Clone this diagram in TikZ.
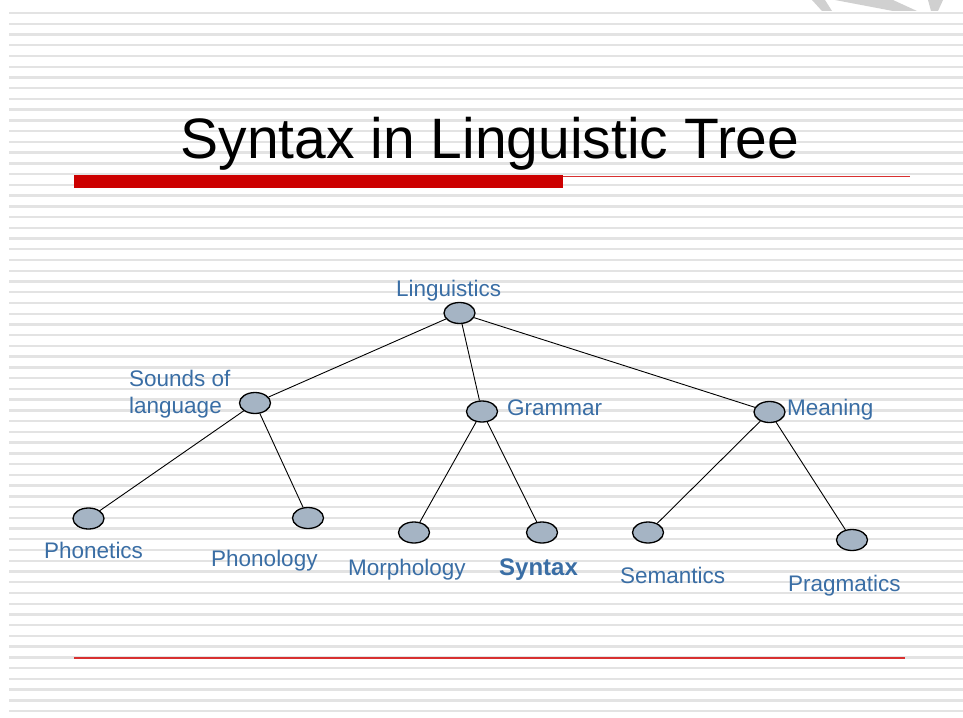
\documentclass[tikz,border=0pt]{standalone}
\usepackage{fontspec}
\setmainfont{Liberation Sans}
\usetikzlibrary{shapes.geometric}
\definecolor{stripegray}{HTML}{E3E3E3}
\definecolor{logogray}{HTML}{D0D0D0}
\definecolor{barred}{HTML}{CC0000}
\definecolor{linered}{HTML}{D83030}
\definecolor{labelblue}{HTML}{3A6EA5}
\definecolor{nodegray}{HTML}{A5B4C4}
\tikzset{
  knot/.style={ellipse,draw=black,line width=1.3pt,fill=nodegray,minimum width=31pt,minimum height=21pt,inner sep=0pt},
  lbl/.style={anchor=base west,inner sep=0pt,text=labelblue,font=\fontsize{22.5}{27}\selectfont},
  branch/.style={black,line width=0.9pt}
}

\begin{document}
\begin{tikzpicture}[x=1pt,y=-1pt]
  \pgfmathsetmacro\gap{10.74}
  \useasboundingbox (0,0) rectangle (963,717);
  \fill[white] (0,0) rectangle (963,717);

% background stripes
  \foreach \k in {0,...,65} {
      \draw[stripegray,line width=2.4pt] (9,13 + \k * \gap) -- (963,13 + \k * \gap);
  }

% corner logo
  \fill[logogray] (812,0) -- (825,0) -- (832,11) -- (822,11) -- cycle;
  \fill[logogray] (835,0) -- (893,0) -- (917,11) -- (893,11) -- cycle;
  \fill[logogray] (928,0) -- (943,0) -- (938,11) -- (931,11) -- cycle;

% title and rules
  \node[anchor=base,inner sep=0pt,font=\fontsize{57}{68}\selectfont] (title) at (490,158) {Syntax in Linguistic Tree};
  \fill[barred] (74,175) rectangle (563,187.5);
  \draw[linered,line width=1pt] (563,176) -- (910,176);
  \fill[linered] (74,656.5) rectangle (905,658.5);

% tree nodes
  \node[knot] (ling)  at (459.5,313) {};
  \node[knot] (sound) at (255,403) {};
  \node[knot] (gram)  at (482,411.5) {};
  \node[knot] (mean)  at (769.5,412) {};
  \node[knot] (phonet) at (88.5,518.5) {};
  \node[knot] (phonol) at (308,518) {};
  \node[knot] (morph) at (414,532.5) {};
  \node[knot] (synt)  at (542,532.5) {};
  \node[knot] (seman) at (648,532.5) {};
  \node[knot] (pragm) at (852,540) {};

% branches
  \draw[branch] (ling) -- (sound);
  \draw[branch] (ling) -- (gram);
  \draw[branch] (ling) -- (mean);
  \draw[branch] (sound) -- (phonet);
  \draw[branch] (sound) -- (phonol);
  \draw[branch] (gram) -- (morph);
  \draw[branch] (gram) -- (synt);
  \draw[branch] (mean) -- (seman);
  \draw[branch] (mean) -- (pragm);

% labels
  \node[lbl] (lingtext)  at (396,296) {Linguistics};
  \node[lbl] (soundtext) at (129,386) {Sounds of};
  \node[lbl] (langtext)  at (129,413) {language};
  \node[lbl] (gramtext)  at (507,415) {Grammar};
  \node[lbl] (meantext)  at (787,415) {Meaning};
  \node[lbl] (phonettext) at (44,558) {Phonetics};
  \node[lbl] (phonoltext) at (211,566) {Phonology};
  \node[lbl] (morphtext) at (348,575) {Morphology};
  \node[lbl,font=\fontsize{24}{28}\selectfont\bfseries] (synttext) at (499,575) {Syntax};
  \node[lbl] (semantext) at (620,583) {Semantics};
  \node[lbl] (pragmtext) at (788,591) {Pragmatics};

\end{tikzpicture}
\end{document}
